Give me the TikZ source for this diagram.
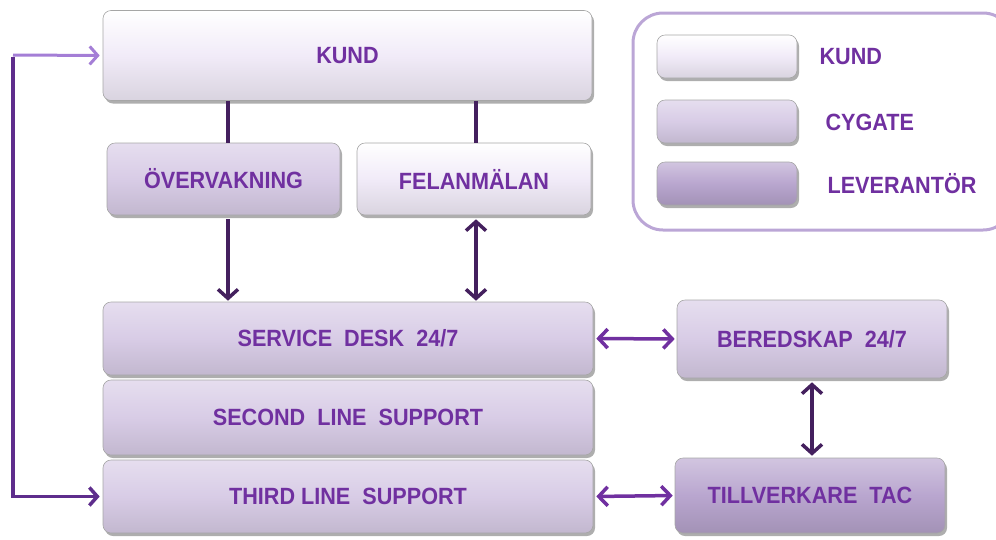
\documentclass[tikz,border=0pt]{standalone}
\usepackage{fontspec}
\setmainfont{Liberation Sans}[FakeStretch=0.92]
\usetikzlibrary{arrows.meta,shadows,calc}
\definecolor{kundc}{HTML}{F1EBF8}
\definecolor{cygc}{HTML}{D8CCE6}
\definecolor{levc}{HTML}{B9A6CF}
\definecolor{txtc}{HTML}{7030A0}
\definecolor{darkc}{HTML}{44205E}
\definecolor{midc}{HTML}{7030A0}
\definecolor{looptop}{HTML}{A47ED6}
\definecolor{loopc}{HTML}{5E2D8C}
\definecolor{framec}{HTML}{BBA6D6}
\tikzset{
  boxbase/.style={rounded corners=8pt, draw=black!35, line width=0.6pt,
    font=\fontsize{23.5}{25}\selectfont\bfseries, text=txtc,
    drop shadow={shadow xshift=2pt, shadow yshift=-3pt, opacity=0.45, fill=black!70}},
  kundbox/.style={boxbase, top color=white, bottom color=kundc!90!black, middle color=kundc},
  cygbox/.style={boxbase, top color=cygc!65!white, bottom color=cygc!90!black, middle color=cygc},
  levbox/.style={boxbase, top color=levc!65!white, bottom color=levc!88!black, middle color=levc},
  legtext/.style={font=\fontsize{23.5}{25}\selectfont\bfseries, text=txtc, anchor=west},
  darkline/.style={draw=darkc, line width=4pt},
  darkarr/.style={darkline, -{Straight Barb[length=9pt,width=20pt,line width=3.5pt]}},
  darkdbl/.style={darkline, {Straight Barb[length=9pt,width=20pt,line width=3.5pt]}-{Straight Barb[length=9pt,width=20pt,line width=3.5pt]}},
  middbl/.style={draw=midc, line width=3.5pt, {Straight Barb[length=9pt,width=19pt,line width=3.5pt]}-{Straight Barb[length=9pt,width=19pt,line width=3.5pt]}},
}
\begin{document}
\begin{tikzpicture}[x=1pt,y=-1pt]
\useasboundingbox (0,0) rectangle (996,539);
% legend frame
\node[draw=framec, line width=3pt, rounded corners=30pt, minimum width=380pt, minimum height=217pt] (legend) at (823,121.5) {};
% main boxes
\node[kundbox, minimum width=489pt, minimum height=90pt] (kund) at (347.5,55.5) {KUND};
\node[cygbox, minimum width=233pt, minimum height=72pt] (overv) at (223.5,179) {ÖVERVAKNING};
\node[kundbox, minimum width=234pt, minimum height=72pt] (felan) at (474,179) {FELANMÄLAN};
\node[cygbox, minimum width=490pt, minimum height=73pt] (sd) at (348,338.5) {SERVICE\ \ DESK\ \ 24/7};
\node[cygbox, minimum width=490pt, minimum height=75pt] (sl) at (348,417.5) {SECOND\ \ LINE\ \ SUPPORT};
\node[cygbox, minimum width=490pt, minimum height=73pt] (tl) at (348,496.5) {THIRD LINE\ \ SUPPORT};
\node[cygbox, minimum width=270pt, minimum height=78pt] (bered) at (812,339) {BEREDSKAP\ \ 24/7};
\node[levbox, minimum width=270pt, minimum height=75pt] (till) at (810,495.5) {TILLVERKARE\ \ TAC};
% legend swatches
\node[kundbox, minimum width=140pt, minimum height=43pt] (lk) at (727,56.5) {};
\node[cygbox, minimum width=140pt, minimum height=43pt] (lc) at (727,121.5) {};
\node[levbox, minimum width=140pt, minimum height=43pt] (ll) at (727,183.5) {};
\node[legtext] (lkt) at (816,57) {KUND};
\node[legtext] (lct) at (822,122) {CYGATE};
\node[legtext] (llt) at (824,184) {LEVERANTÖR};
% connectors
\draw[darkline] (kund.south -| 228,0) -- (overv.north -| 228,0);
\draw[darkline] (kund.south -| 476,0) -- (felan.north -| 476,0);
\draw[darkarr, shorten <=4pt, shorten >=1pt] (overv.south -| 228,0) -- (sd.north -| 228,0);
\draw[darkdbl, shorten <=4pt, shorten >=1pt] (felan.south -| 476,0) -- (sd.north -| 476,0);
\draw[middbl, shorten <=3pt, shorten >=2pt] (sd.east) -- (bered.west);
\draw[darkdbl, shorten <=4pt, shorten >=2pt] (bered.south -| 812,0) -- (till.north -| 812,0);
\draw[middbl, shorten <=3pt, shorten >=2pt] (tl.east) -- (till.west);
% loop
\coordinate (corner) at (13,55);
\draw[draw=looptop, line width=3pt, -{Straight Barb[length=8pt,width=18pt,line width=3pt]}, shorten >=3pt] (corner) -- (kund.west);
\draw[draw=loopc, line width=3.5pt, -{Straight Barb[length=8pt,width=18pt,line width=3.5pt]}, shorten >=3pt] ([yshift=-1.5pt]corner) |- (tl.west);
\end{tikzpicture}
\end{document}
